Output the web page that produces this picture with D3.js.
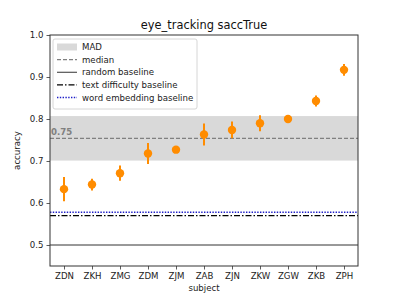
<!DOCTYPE html>
<html>
<head>
<meta charset="utf-8">
<script src="https://cdn.jsdelivr.net/npm/d3@7"></script>
<style>
body { margin: 0; background: #fff; }
text { font-family: "DejaVu Sans", sans-serif; }
</style>
</head>
<body>
<script>
const width = 399;
const height = 299;

const subjects = ['ZDN', 'ZKH', 'ZMG', 'ZDM', 'ZJM', 'ZAB', 'ZJN', 'ZKW', 'ZGW', 'ZKB', 'ZPH'];
const accuracy = [0.633, 0.644, 0.671, 0.718, 0.727, 0.763, 0.774, 0.790, 0.800, 0.843, 0.917];
const errors = [0.029, 0.014, 0.018, 0.025, 0.008, 0.026, 0.020, 0.019, 0.005, 0.013, 0.014];
const yTicks = [0.5, 0.6, 0.7, 0.8, 0.9, 1.0];

const median = 0.754;
const mad = 0.053;
const randomBaseline = 0.5;
const textDifficulty = 0.570;
const wordEmbedding = 0.578;

const legendItems = ['MAD', 'median', 'random baseline', 'text difficulty baseline', 'word embedding baseline'];

const mLeft = 50, mRight = 358, mTop = 35, mBottom = 266;
const fs = '8.6px';

const svg = d3.select('body').append('svg').attr('width', width).attr('height', height);

const xs = d3.scalePoint().domain(subjects).range([mLeft, mRight]).padding(0.5);
const ys = d3.scaleLinear().domain([0.45, 1.0]).range([mBottom, mTop]);

// MAD band
svg.append('rect')
	.attr('x', mLeft).attr('width', mRight - mLeft)
	.attr('y', ys(median + mad)).attr('height', ys(median - mad) - ys(median + mad))
	.style('fill', '#d9d9d9');

// median
svg.append('line')
	.attr('x1', mLeft).attr('x2', mRight)
	.attr('y1', ys(median)).attr('y2', ys(median))
	.style('stroke', 'gray').style('stroke-width', 1.2).style('stroke-dasharray', '4,2');

svg.append('text')
	.attr('x', mLeft + 1).attr('y', ys(median) - 3)
	.text(median.toFixed(2))
	.style('font-size', fs).style('font-weight', 'bold').style('fill', 'gray');

// baselines
svg.append('line')
	.attr('x1', mLeft).attr('x2', mRight)
	.attr('y1', ys(randomBaseline)).attr('y2', ys(randomBaseline))
	.style('stroke', '#333').style('stroke-width', 1);

svg.append('line')
	.attr('x1', mLeft).attr('x2', mRight)
	.attr('y1', ys(textDifficulty)).attr('y2', ys(textDifficulty))
	.style('stroke', 'black').style('stroke-width', 1.4).style('stroke-dasharray', '6,2,1.5,2');

svg.append('line')
	.attr('x1', mLeft).attr('x2', mRight)
	.attr('y1', ys(wordEmbedding)).attr('y2', ys(wordEmbedding))
	.style('stroke', '#1f1fc8').style('stroke-width', 1.4).style('stroke-dasharray', '1.4,1.4');

// error bars + points
svg.selectAll('.err')
	.data(subjects)
	.enter()
	.append('line')
	.attr('class', 'err')
	.attr('x1', d => xs(d)).attr('x2', d => xs(d))
	.attr('y1', (d, i) => ys(accuracy[i] - errors[i]))
	.attr('y2', (d, i) => ys(accuracy[i] + errors[i]))
	.style('stroke', 'darkorange').style('stroke-width', 2);

svg.selectAll('.dot')
	.data(subjects)
	.enter()
	.append('circle')
	.attr('class', 'dot')
	.attr('cx', d => xs(d))
	.attr('cy', (d, i) => ys(accuracy[i]))
	.attr('r', 4.2)
	.style('fill', 'darkorange');

// axes
const yaxis = svg.append('g')
	.attr('transform', `translate(${mLeft},0)`)
	.call(d3.axisLeft(ys).tickValues(yTicks).tickFormat(d3.format('.1f')).tickSize(3.5).tickPadding(3));

const xaxis = svg.append('g')
	.attr('transform', `translate(0,${mBottom})`)
	.call(d3.axisBottom(xs).tickSize(3.5).tickPadding(3));

[yaxis, xaxis].forEach(a => {
	a.select('.domain').remove();
	a.selectAll('line').style('stroke', '#333').style('stroke-width', 0.8);
	a.selectAll('text').style('font-size', fs).style('font-family', '"DejaVu Sans", sans-serif').style('fill', '#222');
});

svg.append('rect')
	.attr('x', mLeft).attr('y', mTop)
	.attr('width', mRight - mLeft).attr('height', mBottom - mTop)
	.style('fill', 'none').style('stroke', '#333').style('stroke-width', 1);

// labels
svg.append('text')
	.attr('x', (mLeft + mRight) / 2).attr('y', 29)
	.attr('text-anchor', 'middle')
	.text('eye_tracking saccTrue')
	.style('font-size', '11.4px').style('fill', '#111');

svg.append('text')
	.attr('x', (mLeft + mRight) / 2).attr('y', 291)
	.attr('text-anchor', 'middle')
	.text('subject')
	.style('font-size', fs).style('fill', '#222');

svg.append('text')
	.attr('transform', `translate(20,${(mTop + mBottom) / 2}) rotate(-90)`)
	.attr('text-anchor', 'middle')
	.text('accuracy')
	.style('font-size', fs).style('fill', '#222');

// legend
const lg = svg.append('g').attr('transform', 'translate(53,39)');
lg.append('rect')
	.attr('x', 0).attr('y', 0).attr('width', 144).attr('height', 70).attr('rx', 2)
	.style('fill', 'white').style('fill-opacity', 0.8).style('stroke', '#ccc').style('stroke-width', 0.8);

const ly = d3.scalePoint().domain(legendItems).range([8, 58.5]);

lg.append('rect')
	.attr('x', 4).attr('y', ly('MAD') - 3.5).attr('width', 20).attr('height', 7)
	.style('fill', '#d9d9d9');

const legendStyles = {
	'median': {stroke: 'gray', width: 1.2, dash: '4,2'},
	'random baseline': {stroke: '#333', width: 1, dash: null},
	'text difficulty baseline': {stroke: 'black', width: 1.4, dash: '6,2,1.5,2'},
	'word embedding baseline': {stroke: '#1f1fc8', width: 1.4, dash: '1.4,1.4'}
};

Object.keys(legendStyles).forEach(k => {
	const s = legendStyles[k];
	lg.append('line')
		.attr('x1', 4).attr('x2', 24)
		.attr('y1', ly(k)).attr('y2', ly(k))
		.style('stroke', s.stroke).style('stroke-width', s.width)
		.style('stroke-dasharray', s.dash);
});

lg.selectAll('.ltext')
	.data(legendItems)
	.enter()
	.append('text')
	.attr('class', 'ltext')
	.attr('x', 29)
	.attr('y', d => ly(d) + 3)
	.text(d => d)
	.style('font-size', fs).style('fill', '#222');
</script>
</body>
</html>
